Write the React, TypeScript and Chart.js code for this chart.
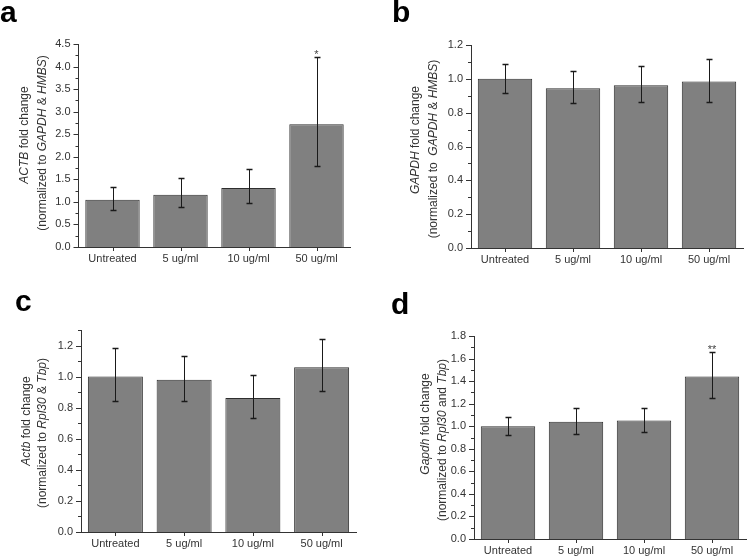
import React, { useEffect, useRef } from "react";
import { Chart, registerables } from "chart.js";
Chart.register(...registerables);

const FONT = "'Liberation Sans', Arial, Helvetica, sans-serif";

const categories = ["Untreated", "5 ug/ml", "10 ug/ml", "50 ug/ml"];

// Panel a: ACTB (human)
const actbHumanMean = [1.05, 1.16, 1.31, 2.72];
const actbHumanLow = [0.82, 0.89, 0.98, 1.79];
const actbHumanHigh = [1.33, 1.52, 1.73, 4.22];
const actbHumanSig = ["", "", "", "*"];

// Panel b: GAPDH (human)
const gapdhHumanMean = [1.0, 0.945, 0.962, 0.984];
const gapdhHumanLow = [0.915, 0.86, 0.865, 0.865];
const gapdhHumanHigh = [1.09, 1.045, 1.075, 1.12];
const gapdhHumanSig = ["", "", "", ""];

// Panel c: Actb (mouse)
const actbMouseMean = [1.0, 0.98, 0.862, 1.06];
const actbMouseLow = [0.845, 0.845, 0.735, 0.905];
const actbMouseHigh = [1.185, 1.135, 1.012, 1.24];
const actbMouseSig = ["", "", "", ""];

// Panel d: Gapdh (mouse)
const gapdhMouseMean = [1.0, 1.04, 1.05, 1.44];
const gapdhMouseLow = [0.92, 0.93, 0.95, 1.25];
const gapdhMouseHigh = [1.085, 1.16, 1.16, 1.655];
const gapdhMouseSig = ["", "", "", "**"];

type Seg = [string, boolean];

interface PanelCfg {
  letter: string;
  letterX: number;
  letterY: number;
  left: number;
  top: number;
  w: number;
  h: number;
  axisLeft: number;
  axisRight: number;
  axisTop: number;
  axisBottom: number;
  max: number;
  major: number;
  minor: number;
  mean: number[];
  low: number[];
  high: number[];
  sig: string[];
  title1: Seg[];
  title2: Seg[];
  t1x: number;
  t2x: number;
  t1y: number;
  t2y: number;
}

const panels: PanelCfg[] = [
  {
    letter: "a", letterX: 0, letterY: 22,
    left: 0, top: 0, w: 374, h: 278,
    axisLeft: 78.5, axisRight: 350.5, axisTop: 44, axisBottom: 247,
    max: 4.5, major: 0.5, minor: 0.25,
    mean: actbHumanMean, low: actbHumanLow, high: actbHumanHigh, sig: actbHumanSig,
    title1: [["ACTB", true], [" fold change", false]],
    title2: [["(normalized to ", false], ["GAPDH", true], [" & ", false], ["HMBS", true], [")", false]],
    t1x: 25, t2x: 43, t1y: 135, t2y: 143,
  },
  {
    letter: "b", letterX: 18, letterY: 22,
    left: 374, top: 0, w: 374, h: 278,
    axisLeft: 97, axisRight: 369, axisTop: 45, axisBottom: 248,
    max: 1.2, major: 0.2, minor: 0.1,
    mean: gapdhHumanMean, low: gapdhHumanLow, high: gapdhHumanHigh, sig: gapdhHumanSig,
    title1: [["GAPDH", true], [" fold change", false]],
    title2: [["(normalized to  ", false], ["GAPDH", true], [" & ", false], ["HMBS", true], [")", false]],
    t1x: 42, t2x: 60, t1y: 140, t2y: 149,
  },
  {
    letter: "c", letterX: 15, letterY: 33,
    left: 0, top: 278, w: 374, h: 279,
    axisLeft: 81, axisRight: 356, axisTop: 52, axisBottom: 254,
    max: 1.3, major: 0.2, minor: 0.1,
    mean: actbMouseMean, low: actbMouseLow, high: actbMouseHigh, sig: actbMouseSig,
    title1: [["Actb", true], [" fold change", false]],
    title2: [["(normalized to ", false], ["Rpl30", true], [" & ", false], ["Tbp", true], [")", false]],
    t1x: 27, t2x: 43, t1y: 143, t2y: 155,
  },
  {
    letter: "d", letterX: 17, letterY: 36,
    left: 374, top: 278, w: 374, h: 279,
    axisLeft: 100, axisRight: 372, axisTop: 58, axisBottom: 261,
    max: 1.8, major: 0.2, minor: 0.1,
    mean: gapdhMouseMean, low: gapdhMouseLow, high: gapdhMouseHigh, sig: gapdhMouseSig,
    title1: [["Gapdh", true], [" fold change", false]],
    title2: [["(normalized to ", false], ["Rpl30", true], [" and ", false], ["Tbp", true], [")", false]],
    t1x: 52, t2x: 69, t1y: 146, t2y: 162,
  },
];

function isMajor(v: number, step: number) {
  const r = v / step;
  return Math.abs(r - Math.round(r)) < 1e-6;
}

function drawRotatedSegs(ctx: CanvasRenderingContext2D, segs: Seg[], x: number, cy: number, size: number) {
  const fonts = segs.map(([, it]) => `${it ? "italic " : ""}${size}px ${FONT}`);
  let total = 0;
  const widths = segs.map(([t], i) => {
    ctx.font = fonts[i];
    const w = ctx.measureText(t).width;
    total += w;
    return w;
  });
  ctx.save();
  ctx.translate(x, cy);
  ctx.rotate(-Math.PI / 2);
  ctx.textBaseline = "middle";
  ctx.textAlign = "left";
  let pos = -total / 2;
  segs.forEach(([t], i) => {
    ctx.font = fonts[i];
    ctx.fillText(t, pos, 0);
    pos += widths[i];
  });
  ctx.restore();
}

const overlayPlugin = {
  id: "overlay",
  afterDraw(chart: any, _args: any, opts: any) {
    const p: PanelCfg = opts.panel;
    if (!p) return;
    const ctx: CanvasRenderingContext2D = chart.ctx;
    const xs = chart.scales.x;
    const ys = chart.scales.y;
    const area = chart.chartArea;
    ctx.save();

    // y ticks (major/minor), outward
    ctx.strokeStyle = "#333";
    ctx.lineWidth = 1;
    ys.ticks.forEach((t: any) => {
      if (t.value > p.max + 1e-9) return;
      const yy = Math.round(ys.getPixelForValue(t.value)) + 0.5;
      const len = isMajor(t.value, p.major) ? 5 : 3;
      ctx.beginPath();
      ctx.moveTo(area.left, yy);
      ctx.lineTo(area.left - len, yy);
      ctx.stroke();
    });
    // x ticks at category centres, outward
    categories.forEach((_c, i) => {
      const xx = Math.round(xs.getPixelForValue(i)) + 0.5;
      ctx.beginPath();
      ctx.moveTo(xx, area.bottom);
      ctx.lineTo(xx, area.bottom + 4);
      ctx.stroke();
    });

    // error bars
    ctx.strokeStyle = "#1a1a1a";
    p.low.forEach((lo, i) => {
      const xx = Math.round(xs.getPixelForValue(i)) + 0.5;
      const yl = Math.round(ys.getPixelForValue(lo)) + 0.5;
      const yh = Math.round(ys.getPixelForValue(p.high[i])) + 0.5;
      ctx.lineWidth = 1;
      ctx.beginPath();
      ctx.moveTo(xx, yl);
      ctx.lineTo(xx, yh);
      ctx.stroke();
      ctx.lineWidth = 1.5;
      ctx.beginPath();
      ctx.moveTo(xx - 3, yl);
      ctx.lineTo(xx + 3, yl);
      ctx.moveTo(xx - 3, yh);
      ctx.lineTo(xx + 3, yh);
      ctx.stroke();
    });

    // significance marks
    ctx.fillStyle = "#444";
    ctx.font = `11px ${FONT}`;
    ctx.textAlign = "center";
    ctx.textBaseline = "alphabetic";
    p.sig.forEach((s, i) => {
      if (!s) return;
      const xx = xs.getPixelForValue(i);
      const yh = ys.getPixelForValue(p.high[i]);
      ctx.fillText(s, xx, yh + 1);
    });

    // axis titles
    ctx.fillStyle = "#333";
    drawRotatedSegs(ctx, p.title1, p.t1x, p.t1y, 12);
    drawRotatedSegs(ctx, p.title2, p.t2x, p.t2y, 12);

    // panel letter
    ctx.fillStyle = "#000";
    ctx.font = `bold 30px ${FONT}`;
    ctx.textAlign = "left";
    ctx.textBaseline = "alphabetic";
    ctx.fillText(p.letter, p.letterX, p.letterY);

    ctx.restore();
  },
};

function Panel({ cfg }: { cfg: PanelCfg }) {
  const ref = useRef<HTMLCanvasElement | null>(null);
  useEffect(() => {
    if (!ref.current) return;
    const chart = new Chart(ref.current, {
      type: "bar",
      data: {
        labels: categories,
        datasets: [
          {
            data: cfg.mean,
            backgroundColor: "#808080",
            borderColor: "#2e2e2e",
            borderWidth: 1,
            categoryPercentage: 1,
            barPercentage: 0.8,
          },
        ],
      },
      options: {
        animation: false,
        responsive: false,
        maintainAspectRatio: false,
        layout: {
          padding: {
            left: 0,
            right: cfg.w - cfg.axisRight,
            top: cfg.axisTop,
            bottom: 0,
          },
        },
        plugins: {
          legend: { display: false },
          tooltip: { enabled: false },
          overlay: { panel: cfg },
        } as any,
        scales: {
          x: {
            type: "category",
            offset: true,
            grid: { display: false, drawTicks: false, tickLength: 0 },
            border: { display: true, color: "#333", width: 1 },
            ticks: {
              color: "#333",
              font: { family: FONT, size: 11 },
              padding: 5,
              maxRotation: 0,
              autoSkip: false,
            },
            afterFit: (s: any) => {
              s.height = cfg.h - cfg.axisBottom;
            },
          },
          y: {
            type: "linear",
            min: 0,
            max: cfg.max,
            grid: { display: false, drawTicks: false, tickLength: 0 },
            border: { display: true, color: "#333", width: 1 },
            ticks: {
              stepSize: cfg.minor,
              autoSkip: false,
              color: "#333",
              font: { family: FONT, size: 11 },
              padding: 8,
              callback: (v: any) => {
                const n = Number(v);
                return isMajor(n, cfg.major) ? n.toFixed(1) : "";
              },
            },
            afterFit: (s: any) => {
              s.width = cfg.axisLeft;
            },
          },
        },
      } as any,
      plugins: [overlayPlugin],
    });
    return () => chart.destroy();
  }, [cfg]);
  return (
    <canvas
      ref={ref}
      width={cfg.w}
      height={cfg.h}
      style={{ position: "absolute", left: cfg.left, top: cfg.top, width: cfg.w, height: cfg.h }}
    />
  );
}

export default function App() {
  return (
    <div style={{ position: "absolute", left: 0, top: 0, width: 748, height: 557, background: "#fff" }}>
      {panels.map((p) => (
        <Panel key={p.letter} cfg={p} />
      ))}
    </div>
  );
}
